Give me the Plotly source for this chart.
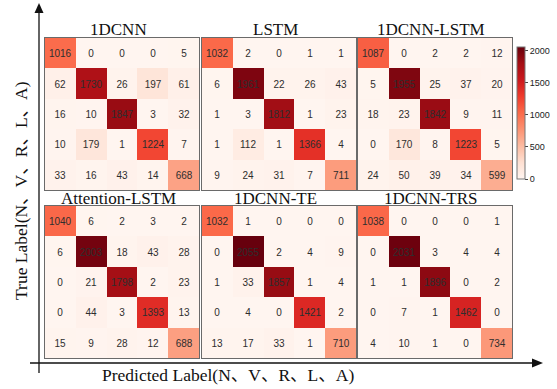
import plotly.graph_objects as go
import plotly.express as px

W, H = 557, 389

# Confusion matrices (rows: true N, V, R, L, A; columns: predicted)
labels = ["N", "V", "R", "L", "A"]
titles = ["1DCNN", "LSTM", "1DCNN-LSTM", "Attention-LSTM", "1DCNN-TE", "1DCNN-TRS"]

cm_1dcnn = [
    [1016, 0, 0, 0, 5],
    [62, 1730, 26, 197, 61],
    [16, 10, 1847, 3, 32],
    [10, 179, 1, 1224, 7],
    [33, 16, 43, 14, 668],
]
cm_lstm = [
    [1032, 2, 0, 1, 1],
    [6, 1961, 22, 26, 43],
    [1, 3, 1812, 1, 23],
    [1, 112, 1, 1366, 4],
    [9, 24, 31, 7, 711],
]
cm_1dcnn_lstm = [
    [1087, 0, 2, 2, 12],
    [5, 1955, 25, 37, 20],
    [18, 23, 1842, 9, 11],
    [0, 170, 8, 1223, 5],
    [24, 50, 39, 34, 599],
]
cm_attention_lstm = [
    [1040, 6, 2, 3, 2],
    [6, 2003, 18, 43, 28],
    [0, 21, 1798, 2, 23],
    [0, 44, 3, 1393, 13],
    [15, 9, 28, 12, 688],
]
cm_1dcnn_te = [
    [1032, 1, 0, 0, 0],
    [0, 2055, 2, 4, 9],
    [1, 33, 1857, 1, 4],
    [0, 4, 0, 1421, 2],
    [13, 17, 33, 1, 710],
]
cm_1dcnn_trs = [
    [1038, 0, 0, 0, 1],
    [0, 2031, 3, 4, 4],
    [1, 1, 1896, 0, 2],
    [0, 7, 1, 1462, 0],
    [4, 10, 1, 0, 734],
]
matrices = [cm_1dcnn, cm_lstm, cm_1dcnn_lstm, cm_attention_lstm, cm_1dcnn_te, cm_1dcnn_trs]

cbar_ticks = [0, 500, 1000, 1500, 2000]
zmax = max(max(max(r) for r in m) for m in matrices)

# panel boxes in pixels (left, right) and (top, bottom)
cols_px = [(45, 199), (202, 356), (358, 512)]
rows_px = [(38, 190), (206, 358)]

def px_x(v):
    return v / W

def px_y(v):
    return 1 - v / H

reds = px.colors.sequential.Reds
fig = go.Figure()
serif = "Liberation Serif, Times New Roman, Noto Sans CJK SC, serif"
sans = "Liberation Sans, Arial, sans-serif"

for i, (m, t) in enumerate(zip(matrices, titles)):
    r, c = divmod(i, 3)
    xa = "x" if i == 0 else f"x{i + 1}"
    ya = "y" if i == 0 else f"y{i + 1}"
    fig.add_trace(go.Heatmap(
        z=m, x=labels, y=labels,
        xaxis=xa, yaxis=ya,
        colorscale=reds, zmin=0, zmax=zmax,
        texttemplate="%{z}",
        textfont=dict(family=sans, size=10, color="#2e2e2e"),
        showscale=(i == 2),
        hoverinfo="skip",
        colorbar=dict(
            x=px_x(517), xanchor="left", xpad=0,
            y=px_y(113), yanchor="middle",
            len=152, lenmode="pixels",
            thickness=8, thicknessmode="pixels",
            outlinewidth=1, outlinecolor="#777",
            tickvals=cbar_ticks, ticks="outside", ticklen=3,
            tickcolor="#444",
            tickfont=dict(family=sans, size=9, color="#222"),
        ),
    ))
    x0, x1 = cols_px[c]
    y0, y1 = rows_px[r]
    axkey = "xaxis" if i == 0 else f"xaxis{i + 1}"
    aykey = "yaxis" if i == 0 else f"yaxis{i + 1}"
    fig.layout[axkey] = dict(
        domain=[px_x(x0), px_x(x1)], anchor=ya,
        showticklabels=False, ticks="", showgrid=False, zeroline=False,
        showline=True, mirror=True, linecolor="#6a6a6a", linewidth=1,
    )
    fig.layout[aykey] = dict(
        domain=[px_y(y1), px_y(y0)], anchor=xa, autorange="reversed",
        showticklabels=False, ticks="", showgrid=False, zeroline=False,
        showline=True, mirror=True, linecolor="#6a6a6a", linewidth=1,
    )
    fig.add_annotation(
        text=t, xref="paper", yref="paper",
        x=px_x((x0 + x1) / 2 - 4), y=px_y(y0 - 8),
        xanchor="center", yanchor="middle", showarrow=False,
        font=dict(family=serif, size=17, color="#111"),
    )

# axis arrows
line_style = dict(color="#111", width=1.3)
fig.add_shape(type="line", xref="paper", yref="paper",
              x0=px_x(39), x1=px_x(39), y0=px_y(373), y1=px_y(12), line=line_style)
fig.add_shape(type="path", xref="paper", yref="paper",
              path=f"M {px_x(34.5)} {px_y(13)} L {px_x(39)} {px_y(3)} L {px_x(43.5)} {px_y(13)} Z",
              fillcolor="#111", line=dict(width=0))
fig.add_shape(type="line", xref="paper", yref="paper",
              x0=px_x(30), x1=px_x(534), y0=px_y(363), y1=px_y(363), line=line_style)
fig.add_shape(type="path", xref="paper", yref="paper",
              path=f"M {px_x(532)} {px_y(358.5)} L {px_x(543)} {px_y(363)} L {px_x(532)} {px_y(367.5)} Z",
              fillcolor="#111", line=dict(width=0))

fig.add_annotation(
    text="Predicted Label(N、V、R、L、A)", xref="paper", yref="paper",
    x=px_x(228), y=px_y(375), xanchor="center", yanchor="middle", showarrow=False,
    font=dict(family=serif, size=17.5, color="#111"),
)
fig.add_annotation(
    text="True Label(N、V、R、L、A)", xref="paper", yref="paper",
    x=px_x(21), y=px_y(191), xanchor="center", yanchor="middle", showarrow=False,
    textangle=-90, font=dict(family=serif, size=17.5, color="#111"),
)

fig.update_layout(
    width=W, height=H,
    margin=dict(l=0, r=0, t=0, b=0),
    paper_bgcolor="white", plot_bgcolor="white",
    showlegend=False,
)

fig.write_html("out.html")
